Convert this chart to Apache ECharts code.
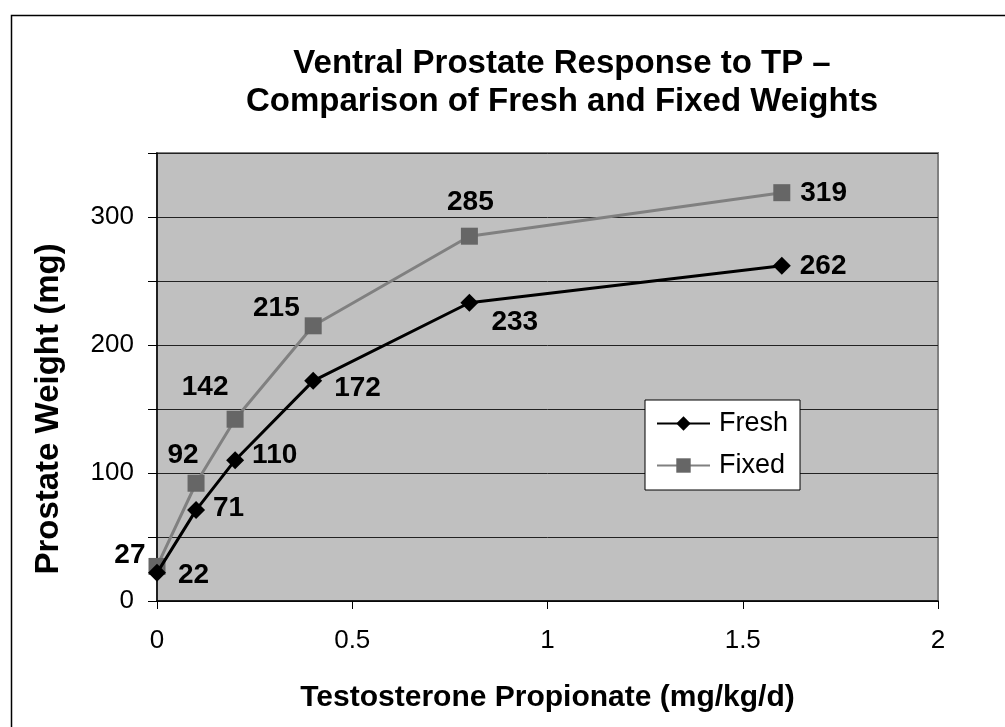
<!DOCTYPE html>
<html>
<head>
<meta charset="utf-8">
<script src="https://cdn.jsdelivr.net/npm/echarts@6/dist/echarts.min.js"></script>
<style>
html, body { margin: 0; padding: 0; background: #fff; }
#chart { width: 1005px; height: 727px; }
</style>
</head>
<body>
<div id="chart"></div>
<script>
// dose (mg/kg/d) and prostate weights (mg)
const doses = [0, 0.1, 0.2, 0.4, 0.8, 1.6];
const freshWeights = [22, 71, 110, 172, 233, 262];
const fixedWeights = [27, 92, 142, 215, 285, 319];
const yTickLabels = [0, 100, 200, 300];

// label placement per point
const freshLabelPos = [
    { position: 'right', offset: [7, 2] },
    { position: 'right', offset: [3, -2] },
    { position: 'right', offset: [3, -5] },
    { position: 'right', offset: [7, 7] },
    { position: 'right', offset: [8, 20] },
    { position: 'right', offset: [4, 1] }
];
const fixedLabelPos = [
    { position: 'left', offset: [2, -11] },
    { position: 'top', offset: [-13, 0] },
    { position: 'top', offset: [-30, -4] },
    { position: 'left', offset: [0, -18] },
    { position: 'top', offset: [1, -6] },
    { position: 'right', offset: [5, 1] }
];

const labelFont = { fontFamily: 'Liberation Sans', fontWeight: 'bold', fontSize: 28, color: '#000' };

let myChart = echarts.init(document.getElementById('chart'));

let option = {
    backgroundColor: '#fff',
    animation: false,
    textStyle: { fontFamily: 'Liberation Sans' },
    graphic: [
        {
            type: 'rect',
            left: 9, top: 13,
            shape: { width: 1010, height: 730 },
            style: { fill: 'none', stroke: '#000', lineWidth: 1.5 },
            silent: true
        }
    ],
    title: {
        text: 'Ventral Prostate Response to TP –\nComparison of Fresh and Fixed Weights',
        left: 557,
        top: 40,
        textAlign: 'center',
        textStyle: {
            fontFamily: 'Liberation Sans',
            fontWeight: 'bold',
            fontSize: 33,
            lineHeight: 38,
            color: '#000'
        }
    },
    legend: {
        orient: 'vertical',
        left: 645,
        top: 400,
        width: 155,
        padding: [10, 12, 11, 11],
        itemGap: 15,
        itemWidth: 53,
        itemHeight: 18,
        backgroundColor: '#fff',
        borderColor: '#000',
        borderWidth: 1,
        textStyle: { fontFamily: 'Liberation Sans', fontSize: 27, color: '#000', padding: [0, 0, 0, 4] },
        data: ['Fresh', 'Fixed']
    },
    grid: {
        left: 157,
        right: 67,
        top: 153,
        bottom: 126,
        show: true,
        backgroundColor: '#c0c0c0',
        borderColor: '#808080',
        borderWidth: 2
    },
    xAxis: {
        type: 'value',
        min: 0,
        max: 2,
        interval: 0.5,
        name: 'Testosterone Propionate (mg/kg/d)',
        nameLocation: 'middle',
        nameGap: 82,
        nameTextStyle: { fontFamily: 'Liberation Sans', fontWeight: 'bold', fontSize: 30, color: '#000' },
        axisLine: { show: true, lineStyle: { color: '#000', width: 1.5 } },
        axisTick: { show: true, inside: false, length: 8, lineStyle: { color: '#000' } },
        axisLabel: { margin: 27, fontSize: 26, color: '#000', fontFamily: 'Liberation Sans' },
        splitLine: { show: false }
    },
    yAxis: {
        type: 'value',
        min: 0,
        max: 350,
        interval: 50,
        name: 'Prostate Weight (mg)',
        nameLocation: 'middle',
        nameGap: 92,
        nameTextStyle: {
            fontFamily: 'Liberation Sans',
            fontWeight: 'bold',
            fontSize: 33,
            color: '#000',
            padding: [0, 64, 0, 0]
        },
        axisLine: { show: true, lineStyle: { color: '#000', width: 1.5 } },
        axisTick: { show: true, inside: false, length: 9, lineStyle: { color: '#000' } },
        axisLabel: {
            margin: 23,
            fontSize: 26,
            color: '#000',
            fontFamily: 'Liberation Sans',
            formatter: v => yTickLabels.indexOf(v) >= 0 ? String(v) : ''
        },
        splitLine: { show: true, lineStyle: { color: '#222', width: 1 } }
    },
    series: [
        {
            name: 'Fresh',
            type: 'line',
            z: 4,
            symbol: 'diamond',
            symbolSize: 18,
            itemStyle: { color: '#000' },
            lineStyle: { color: '#000', width: 3 },
            label: Object.assign({ show: true }, labelFont),
            data: doses.map((d, i) => ({
                value: [d, freshWeights[i]],
                label: freshLabelPos[i]
            }))
        },
        {
            name: 'Fixed',
            type: 'line',
            z: 3,
            symbol: 'rect',
            symbolSize: 17,
            itemStyle: { color: '#666' },
            lineStyle: { color: '#808080', width: 3 },
            label: Object.assign({ show: true }, labelFont),
            data: doses.map((d, i) => ({
                value: [d, fixedWeights[i]],
                label: fixedLabelPos[i]
            }))
        }
    ]
};
myChart.setOption(option);

window.addEventListener('resize', () => {
    myChart.resize()
})
</script>
</body>
</html>
